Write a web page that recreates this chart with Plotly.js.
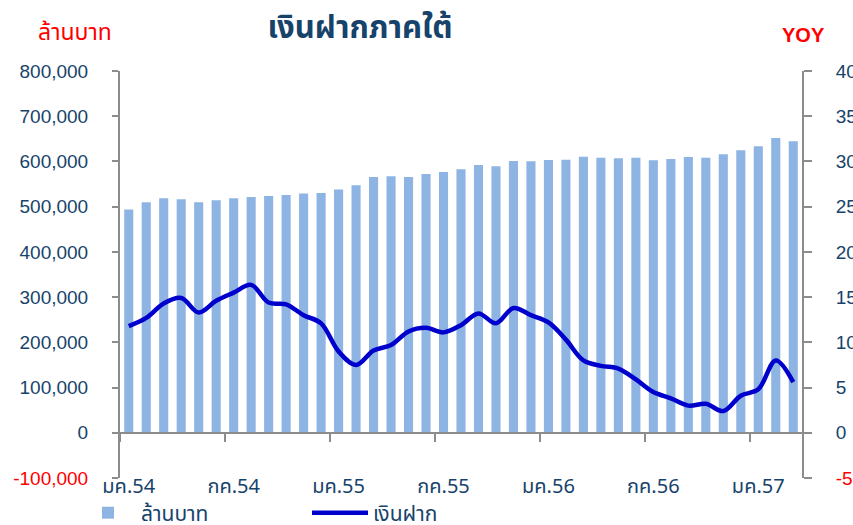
<!DOCTYPE html>
<html>
<head>
<meta charset="utf-8">
<script src="https://cdn.plot.ly/plotly-3.0.1.min.js"></script>
<style>html,body{margin:0;padding:0;background:#fff;}#chart{width:853px;height:525px;}</style>
</head>
<body>
<div id="chart"></div>
<script>
// Months Jan 2554 (2011) .. Mar 2557 (2014)
const months = [
 'มค.54','กพ.54','มีค.54','เมย.54','พค.54','มิย.54','กค.54','สค.54','กย.54','ตค.54','พย.54','ธค.54',
 'มค.55','กพ.55','มีค.55','เมย.55','พค.55','มิย.55','กค.55','สค.55','กย.55','ตค.55','พย.55','ธค.55',
 'มค.56','กพ.56','มีค.56','เมย.56','พค.56','มิย.56','กค.56','สค.56','กย.56','ตค.56','พย.56','ธค.56',
 'มค.57','กพ.57','มีค.57'
];
// Deposits, million baht
const deposits = [
 494000,509800,518600,516400,509800,514200,518600,521500,523800,526000,528900,530400,
 538000,547400,565700,567200,565700,572400,576800,582700,592300,589400,601100,600400,
 603300,604000,610600,608400,607000,608400,602600,605500,610000,608400,615900,624700,
 633600,651900,644600
];
// YoY growth, %
const yoy = [
 11.8,12.7,14.3,14.9,13.3,14.6,15.5,16.35,14.4,14.2,13.0,12.1,
 9.0,7.5,9.1,9.7,11.2,11.6,11.1,11.9,13.2,12.1,13.8,13.0,
 12.2,10.3,8.0,7.4,7.1,5.9,4.5,3.8,3.0,3.2,2.4,4.1,
 4.8,8.0,5.6
];
const leftTickVals = [-100000,0,100000,200000,300000,400000,500000,600000,700000,800000];
const leftTickText = ['<span style="color:#FF0000">-100,000</span>','0','100,000','200,000','300,000','400,000','500,000','600,000','700,000','800,000'];
const rightTickVals = [-5,0,5,10,15,20,25,30,35,40];
const rightTickText = ['<span style="color:#FF0000">-5</span>','0','5','10','15','20','25','30','35','40'];

const thaiFont = 'Tahoma, "Noto Sans Thai", "Noto Sans", "DejaVu Sans", sans-serif';
const numFont = 'Arial, "Liberation Sans", sans-serif';
const dark = '#17436B';
const axisGray = '#8C8C8C';

const traces = [
 {type:'bar', name:'ล้านบาท', x:months, y:deposits, xaxis:'x', yaxis:'y',
  marker:{color:'#8DB4E2'}, hoverinfo:'x+y'},
 {type:'scatter', mode:'lines', name:'เงินฝาก', x:months, y:yoy, xaxis:'x2', yaxis:'y2',
  line:{color:'#0000CC', width:4.5, shape:'spline', smoothing:1}}
];

const layout = {
 width:853, height:525,
 margin:{l:120, r:51, t:71, b:47, autoexpand:false},
 paper_bgcolor:'#ffffff', plot_bgcolor:'#ffffff',
 bargap:0.48,
 showlegend:true,
 title:{text:'<b>เงินฝากภาคใต้</b>', x:360/853, xanchor:'center', xref:'container', y:1-27/525, yref:'container', yanchor:'middle',
        font:{family:thaiFont, size:31, color:dark}},
 xaxis:{type:'category', range:[-0.5,38.5], tickmode:'linear', tick0:0, dtick:6,
        showline:false, ticks:'', showgrid:false, zeroline:false, ticklabelstandoff:-6,
        tickfont:{family:thaiFont, size:20, color:dark}},
 xaxis2:{type:'category', range:[-0.5,38.5], overlaying:'x', anchor:'free', position:1/9,
        tickmode:'linear', tick0:0, dtick:6, tickson:'boundaries', ticks:'outside', ticklen:8, tickwidth:1.5, tickcolor:axisGray,
        showticklabels:false, showline:true, linecolor:axisGray, linewidth:2, showgrid:false, zeroline:false},
 yaxis:{range:[-100000,800000], tickmode:'array', tickvals:leftTickVals, ticktext:leftTickText,
        showline:true, linecolor:axisGray, linewidth:2, ticks:'outside', ticklen:6, tickwidth:1.5, tickcolor:axisGray,
        showgrid:false, zeroline:false, ticklabelstandoff:20,
        tickfont:{family:numFont, size:19, color:dark}},
 yaxis2:{range:[-5,40], overlaying:'y', side:'right', anchor:'x', tickmode:'array', tickvals:rightTickVals, ticktext:rightTickText,
        showline:true, linecolor:axisGray, linewidth:2, ticks:'outside', ticklen:8, tickwidth:1.5, tickcolor:axisGray,
        showgrid:false, zeroline:false, ticklabelstandoff:20,
        tickfont:{family:numFont, size:19, color:dark}},
 legend:{orientation:'h', x:(75-120)/682, xanchor:'left', y:(478-513)/407, yanchor:'middle', entrywidth:161, entrywidthmode:'pixels',
        font:{family:thaiFont, size:21, color:dark}, itemwidth:56, bgcolor:'rgba(0,0,0,0)'},
 annotations:[
  {text:'ล้านบาท', xref:'paper', yref:'paper', x:(75-120)/682, y:(478-33)/407, xanchor:'center', yanchor:'middle', showarrow:false,
   font:{family:thaiFont, size:23, color:'#FF0000'}},
  {text:'<b>YOY</b>', xref:'paper', yref:'paper', x:(803-120)/682, y:(478-35)/407, xanchor:'center', yanchor:'middle', showarrow:false,
   font:{family:numFont, size:20, color:'#FF0000'}}
 ]
};

Plotly.newPlot('chart', traces, layout, {displayModeBar:false, responsive:false});
</script>
</body>
</html>
